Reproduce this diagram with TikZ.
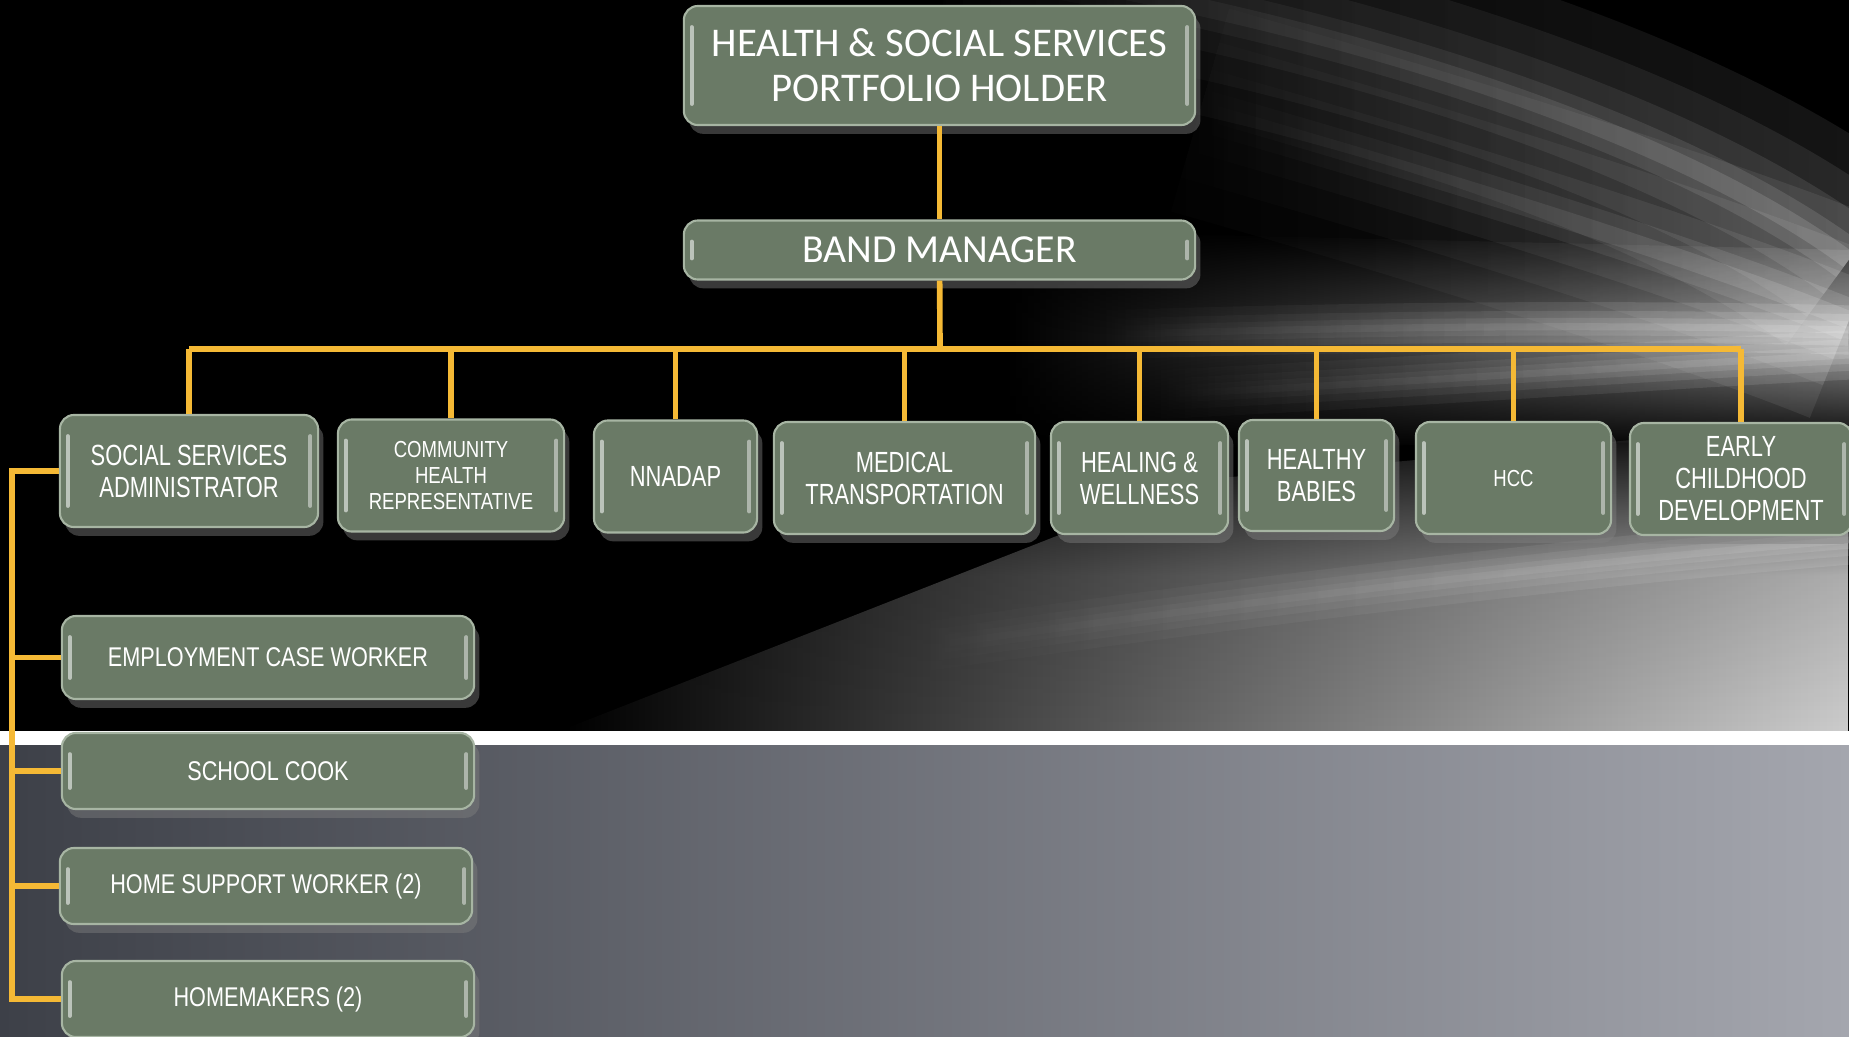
\documentclass[tikz,border=0pt]{standalone}
\usepackage{fontspec}
\setmainfont{Carlito}
\newfontfamily\narrowfont[FakeStretch=0.8]{Liberation Sans}
\newfontfamily\unitfont[FakeStretch=0.75]{Liberation Sans}
\usetikzlibrary{calc,shadows,fadings}
\definecolor{boxgreen}{HTML}{6A7A66}
\definecolor{boxedge}{HTML}{A7B5A3}
\definecolor{linkgold}{HTML}{F5B935}
\definecolor{floorleft}{HTML}{3D4048}
\definecolor{floormid}{HTML}{6E717A}
\definecolor{floorright}{HTML}{A4A6AE}

\tikzfading[name=fadeleft, left color=transparent!100, right color=transparent!0]
\tikzfading[name=fadeup, top color=transparent!100, bottom color=transparent!0, middle color=transparent!15]
\tikzfading[name=softband, top color=transparent!100, bottom color=transparent!100, middle color=transparent!0]

\tikzset{
  post/.style={rectangle, rounded corners=4pt, fill=boxgreen, draw=boxedge, line width=0.6pt,
    text=white, align=center, inner sep=0pt,
    drop shadow={opacity=0.45, shadow xshift=1.5pt, shadow yshift=-2.5pt},
    path picture={
      \draw[white, opacity=0.55, line width=1.1pt, line cap=round]
        ([shift={(2.2pt,-6pt)}]path picture bounding box.north west) -- ([shift={(2.2pt,6pt)}]path picture bounding box.south west);
      \draw[white, opacity=0.45, line width=1.1pt, line cap=round]
        ([shift={(-2.2pt,-6pt)}]path picture bounding box.north east) -- ([shift={(-2.2pt,6pt)}]path picture bounding box.south east);
    }},
  head/.style={post, font=\fontsize{11.3}{12.8}\selectfont, minimum width=5.11cm},
  unit/.style={post, font=\unitfont\fontsize{8.3}{9.1}\selectfont, minimum height=1.12cm},
  smallunit/.style={post, font=\narrowfont\fontsize{6.6}{7.3}\selectfont, minimum height=1.12cm},
  staff/.style={post, font=\narrowfont\fontsize{7.7}{9}\selectfont, minimum width=4.12cm, minimum height=0.76cm},
  link/.style={draw=linkgold, line width=1.6pt},
  streak/.style={white, line cap=butt, path fading=fadeleft},
}

\begin{document}
\begin{tikzpicture}[x=0.01cm, y=-0.01cm]
  \useasboundingbox (0,0) rectangle (1849,1036);
  \clip (0,0) rectangle (1849,1036);

  % backdrop
  \fill[black] (0,0) rectangle (1849,731);
  \shade[left color=black, middle color=black!62, right color=black!20, path fading=fadeup] (560,731) -- (1200,480) -- (1849,420) -- (1849,731) -- cycle;
  \shade[left color=black, right color=gray!90!white, path fading=softband] (1000,230) -- (1849,250) -- (1849,440) -- (1000,450) -- cycle;
  \foreach \w/\o in {60/0.09,40/0.09,24/0.1,12/0.12,5/0.14}{
    \draw[streak, opacity=\o, line width=\w pt] (950,-40) .. controls (1400,30) and (1700,150) .. (1849,260);
    \draw[streak, opacity=\o, line width=\w pt] (1200,110) .. controls (1550,210) and (1750,280) .. (1849,320);
  }
  \foreach \w in {14,9,5,2}{
    \draw[streak, opacity=0.15, line width=\w pt] (1100,335) .. controls (1400,325) and (1650,325) .. (1849,330);
    \draw[streak, opacity=0.12, line width=\w pt] (1150,395) .. controls (1450,380) and (1650,365) .. (1849,355);
    \draw[streak, opacity=0.10, line width=\w pt] (900,650) .. controls (1250,600) and (1600,560) .. (1849,540);
  }
  \fill[white] (0,731) rectangle (1849,745);
  \shade[left color=floorleft, middle color=floormid, right color=floorright] (0,745) rectangle (1849,1036);

  % posts
  \node[head, minimum height=1.19cm, font=\fontsize{11.6}{12.8}\selectfont] (holder) at (939.5,65.5) {HEALTH \& SOCIAL SERVICES\\PORTFOLIO HOLDER};
  \node[head, minimum height=0.59cm] (manager) at (939.5,250) {BAND MANAGER};

  \node[unit, minimum width=2.58cm] (ssa) at (189,471) {SOCIAL SERVICES\\ADMINISTRATOR};
  \node[smallunit, minimum width=2.26cm] (chr) at (451,475.5) {COMMUNITY\\HEALTH\\REPRESENTATIVE};
  \node[unit, minimum width=1.63cm] (nnadap) at (675.5,476.5) {NNADAP};
  \node[unit, minimum width=2.61cm] (medtrans) at (904.5,478) {MEDICAL\\TRANSPORTATION};
  \node[unit, minimum width=1.77cm] (healing) at (1139.5,478) {HEALING \&\\WELLNESS};
  \node[unit, minimum width=1.55cm, minimum height=1.11cm] (babies) at (1316.5,475.5) {HEALTHY\\BABIES};
  \node[smallunit, minimum width=1.95cm] (hcc) at (1513.5,478) {HCC};
  \node[unit, minimum width=2.22cm] (ecd) at (1741,479) {EARLY\\CHILDHOOD\\DEVELOPMENT};

  \node[staff, minimum height=0.83cm] (caseworker) at (268,657.5) {EMPLOYMENT CASE WORKER};
  \node[staff] (cook) at (268,771) {SCHOOL COOK};
  \node[staff] (support) at (266,886) {HOME SUPPORT WORKER (2)};
  \node[staff] (homemakers) at (268,999) {HOMEMAKERS (2)};

  % links
  \coordinate (bus) at (940,349);
  \coordinate (trunk) at (12,471);
  \draw[link] (holder) -- (manager);
  \draw[link] (manager) -- (bus);
  \draw[link] (bus -| ssa) -- (bus -| ecd);
  \foreach \post in {ssa,chr,nnadap,medtrans,healing,babies,hcc,ecd}
    \draw[link] (bus -| \post) -- (\post.north);
  \draw[link] (ssa.west) -- (trunk) -- (trunk |- homemakers.west) -- (homemakers.west);
  \foreach \post in {caseworker,cook,support}
    \draw[link] (trunk |- \post.west) -- (\post.west);
\end{tikzpicture}
\end{document}
